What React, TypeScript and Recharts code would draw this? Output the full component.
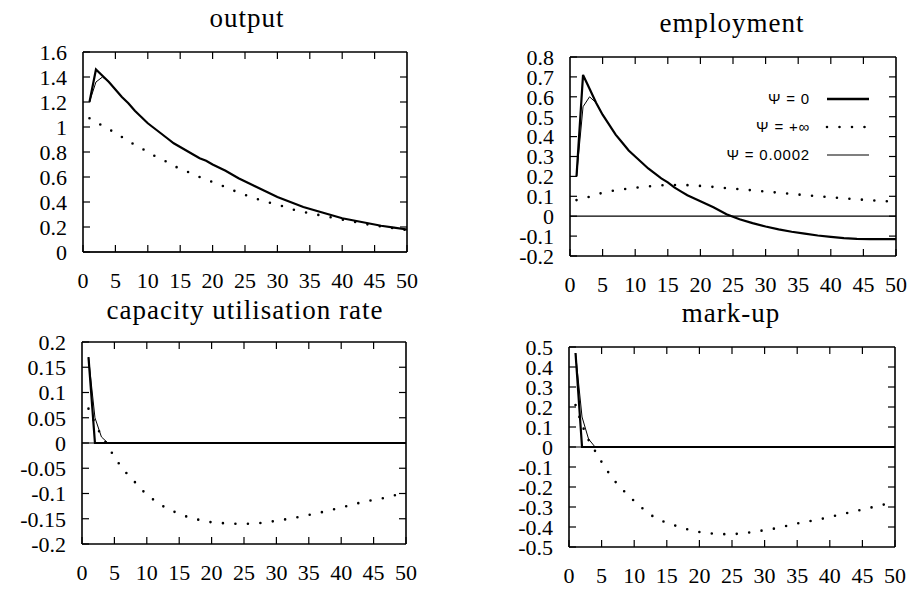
// Four impulse-response panels (gnuplot look): output, employment, capacity utilisation rate, mark-up
import { LineChart, Line, XAxis, YAxis, ReferenceLine } from 'recharts';

const SERIF = 'Liberation Serif';
const DOTS = '0 12.5';
const TICK_LEN = 7;

const legendLabels = ['\u03A8 = 0', '\u03A8 = +\u221E', '\u03A8 = 0.0002'];
const xTicks = [0, 5, 10, 15, 20, 25, 30, 35, 40, 45, 50];
const periods = [
  1, 2, 3, 4, 5, 6, 7, 8, 9, 10, 11, 12, 13, 14, 15, 16, 17, 18, 19, 20,
  22, 24, 26, 28, 30, 32, 34, 36, 38, 40, 42, 44, 46, 48, 50
];

// output
const outputTicks = [0, 0.2, 0.4, 0.6, 0.8, 1, 1.2, 1.4, 1.6];
const outputPsi0 = [
  1.2, 1.46, 1.41, 1.36, 1.3, 1.24, 1.19, 1.13, 1.08, 1.03, 0.99, 0.95, 0.91, 0.87, 0.84, 0.81, 0.78, 0.75, 0.73, 0.7,
  0.65, 0.59, 0.54, 0.49, 0.44, 0.4, 0.36, 0.33, 0.3, 0.27, 0.25, 0.23, 0.21, 0.195, 0.18
];
const outputPsiInf = [
  1.07, 1.04, 1.01, 0.98, 0.955, 0.92, 0.89, 0.855, 0.83, 0.8, 0.77, 0.745, 0.72, 0.69, 0.665, 0.645, 0.62, 0.6, 0.58, 0.56,
  0.52, 0.475, 0.44, 0.405, 0.38, 0.345, 0.32, 0.3, 0.28, 0.26, 0.24, 0.22, 0.205, 0.19, 0.175
];
const outputPsiSmall = [1.2, 1.36, 1.4, 1.36, 1.3];

// employment
const employmentTicks = [-0.2, -0.1, 0, 0.1, 0.2, 0.3, 0.4, 0.5, 0.6, 0.7, 0.8];
const employmentPsi0 = [
  0.2, 0.71, 0.64, 0.57, 0.51, 0.46, 0.41, 0.37, 0.33, 0.3, 0.27, 0.24, 0.215, 0.19, 0.17, 0.145, 0.125, 0.105, 0.09, 0.075,
  0.045, 0.01, -0.015, -0.035, -0.052, -0.066, -0.078, -0.088, -0.097, -0.104, -0.11, -0.114, -0.115, -0.115, -0.115
];
const employmentPsiInf = [
  0.081, 0.09, 0.098, 0.108, 0.118, 0.125, 0.13, 0.135, 0.139, 0.143, 0.147, 0.15, 0.153, 0.155, 0.156, 0.157, 0.157, 0.156, 0.154, 0.152,
  0.147, 0.141, 0.136, 0.13, 0.124, 0.118, 0.112, 0.106, 0.1, 0.095, 0.09, 0.085, 0.08, 0.076, 0.072
];
const employmentPsiSmall = [0.2, 0.55, 0.6, 0.57, 0.51];

// capacity utilisation rate
const capacityTicks = [-0.2, -0.15, -0.1, -0.05, 0, 0.05, 0.1, 0.15, 0.2];
const capacityPsi0 = [
  0.17, 0, 0, 0, 0, 0, 0, 0, 0, 0, 0, 0, 0, 0, 0, 0, 0, 0, 0, 0,
  0, 0, 0, 0, 0, 0, 0, 0, 0, 0, 0, 0, 0, 0, 0
];
const capacityPsiInf = [
  0.068, 0.039, 0.014, -0.006, -0.028, -0.046, -0.062, -0.075, -0.09, -0.102, -0.112, -0.121, -0.129, -0.135, -0.14, -0.145, -0.149, -0.152, -0.155, -0.157,
  -0.159, -0.16, -0.16, -0.158, -0.154, -0.15, -0.145, -0.14, -0.134, -0.128, -0.121, -0.115, -0.111, -0.104, -0.1
];
const capacityPsiSmall = [0.17, 0.05, 0.012, 0];

// mark-up
const markupTicks = [-0.5, -0.4, -0.3, -0.2, -0.1, 0, 0.1, 0.2, 0.3, 0.4, 0.5];
const markupPsi0 = [
  0.47, 0, 0, 0, 0, 0, 0, 0, 0, 0, 0, 0, 0, 0, 0, 0, 0, 0, 0, 0,
  0, 0, 0, 0, 0, 0, 0, 0, 0, 0, 0, 0, 0, 0, 0
];
const markupPsiInf = [
  0.21, 0.11, 0.035, -0.02, -0.075, -0.125, -0.17, -0.205, -0.24, -0.27, -0.3, -0.325, -0.35, -0.365, -0.38, -0.39, -0.4, -0.41, -0.42, -0.425,
  -0.433, -0.436, -0.434, -0.426, -0.416, -0.405, -0.39, -0.375, -0.365, -0.35, -0.335, -0.32, -0.305, -0.29, -0.275
];
const markupPsiSmall = [0.47, 0.15, 0.04, 0];

function buildRows(psi0: number[], psiInf: number[], psiSmall: number[]) {
  return periods.map((t, i) => ({
    t,
    psi0: psi0[i],
    psiInf: psiInf[i],
    psiSmall: i < psiSmall.length ? psiSmall[i] : null
  }));
}

const fmt = (v: number) => String(Math.round(v * 100) / 100);

function XTick({ x, y, payload }: any) {
  return (
    <text x={x} y={y} dy="0.71em" textAnchor="middle" fontFamily={SERIF} fontSize={22} fill="#000">
      {fmt(payload.value)}
    </text>
  );
}

function YTick({ x, y, payload }: any) {
  return (
    <text x={x} y={y} dy="0.355em" textAnchor="end" fontFamily={SERIF} fontSize={22} fill="#000">
      {fmt(payload.value)}
    </text>
  );
}

interface PanelProps {
  plotLeft: number;
  plotTop: number;
  plotW: number;
  plotH: number;
  yTicks: number[];
  rows: ReturnType<typeof buildRows>;
}

function Panel({ plotLeft, plotTop, plotW, plotH, yTicks, rows }: PanelProps) {
  const yMin = yTicks[0];
  const yMax = yTicks[yTicks.length - 1];
  // inward tick length for the top and right edges, in data units
  const dx = (TICK_LEN * 50) / plotW;
  const dy = (TICK_LEN * (yMax - yMin)) / plotH;
  const frame = { stroke: '#000', strokeWidth: 1.6 };
  const tickStyle = { stroke: '#000', strokeWidth: 1.2 };

  return (
    <div style={{ position: 'absolute', left: plotLeft - 80, top: plotTop - 10 }}>
      <LineChart width={plotW + 92} height={plotH + 55} data={rows} margin={{ top: 10, right: 12, left: 0, bottom: 0 }}>
        <XAxis
          dataKey="t"
          type="number"
          domain={[0, 50]}
          ticks={xTicks}
          interval={0}
          height={45}
          tickSize={-TICK_LEN}
          tickMargin={27}
          tick={(p: any) => <XTick {...p} />}
          axisLine={frame}
          tickLine={tickStyle}
        />
        <YAxis
          type="number"
          domain={[yMin, yMax]}
          ticks={yTicks}
          interval={0}
          width={80}
          tickSize={-TICK_LEN}
          tickMargin={23}
          tick={(p: any) => <YTick {...p} />}
          axisLine={frame}
          tickLine={tickStyle}
        />
        <ReferenceLine y={yMax} {...frame} />
        <ReferenceLine x={50} {...frame} />
        {xTicks.slice(1, -1).map((v) => (
          <ReferenceLine key={'xt' + v} segment={[{ x: v, y: yMax }, { x: v, y: yMax - dy }]} {...tickStyle} />
        ))}
        {yTicks.slice(1, -1).map((v) => (
          <ReferenceLine key={'yr' + v} segment={[{ x: 50, y: v }, { x: 50 - dx, y: v }]} {...tickStyle} />
        ))}
        <ReferenceLine y={0} stroke="#000" strokeWidth={1.2} />
        <Line
          type="linear"
          dataKey="psiInf"
          stroke="#000"
          strokeWidth={2.6}
          strokeDasharray={DOTS}
          strokeLinecap="round"
          dot={false}
          activeDot={false}
          isAnimationActive={false}
        />
        <Line type="linear" dataKey="psi0" stroke="#000" strokeWidth={2.2} dot={false} activeDot={false} isAnimationActive={false} />
        <Line type="linear" dataKey="psiSmall" stroke="#000" strokeWidth={1} dot={false} activeDot={false} isAnimationActive={false} />
      </LineChart>
    </div>
  );
}

function Title({ text, cx, baseline }: { text: string; cx: number; baseline: number }) {
  return (
    <div
      style={{
        position: 'absolute',
        left: cx - 200,
        width: 400,
        top: baseline - 22.6,
        textAlign: 'center',
        fontFamily: SERIF,
        fontSize: 27,
        lineHeight: '27px',
        letterSpacing: 1,
        color: '#000'
      }}
    >
      {text}
    </div>
  );
}

function LegendBox() {
  const rowsY = [99, 127, 155];
  const styles = [
    { strokeWidth: 2.4 },
    { strokeWidth: 2.6, strokeDasharray: DOTS, strokeLinecap: 'round' as const },
    { strokeWidth: 1.1 }
  ];
  return (
    <>
      {legendLabels.map((label, i) => (
        <div key={label}>
          <div
            style={{
              position: 'absolute',
              left: 640,
              width: 170,
              top: rowsY[i] - 10,
              height: 20,
              lineHeight: '20px',
              textAlign: 'right',
              fontFamily: 'Liberation Sans',
              fontSize: 15,
              letterSpacing: 0.8,
              color: '#000'
            }}
          >
            {label}
          </div>
          <svg style={{ position: 'absolute', left: 824, top: rowsY[i] - 4 }} width={50} height={8}>
            <line x1={3} x2={45} y1={4} y2={4} stroke="#000" {...styles[i]} />
          </svg>
        </div>
      ))}
    </>
  );
}

export default function App() {
  return (
    <div style={{ position: 'absolute', left: 0, top: 0, width: 912, height: 594, background: '#fff', overflow: 'hidden' }}>
      <Title text="output" cx={247} baseline={28} />
      <Title text="employment" cx={732} baseline={33} />
      <Title text="capacity utilisation rate" cx={245} baseline={320} />
      <Title text="mark-up" cx={731} baseline={323} />
      <Panel plotLeft={83} plotTop={52} plotW={324} plotH={200} yTicks={outputTicks} rows={buildRows(outputPsi0, outputPsiInf, outputPsiSmall)} />
      <Panel plotLeft={570} plotTop={57} plotW={326} plotH={199} yTicks={employmentTicks} rows={buildRows(employmentPsi0, employmentPsiInf, employmentPsiSmall)} />
      <Panel plotLeft={82} plotTop={342} plotW={324} plotH={202} yTicks={capacityTicks} rows={buildRows(capacityPsi0, capacityPsiInf, capacityPsiSmall)} />
      <Panel plotLeft={569} plotTop={347} plotW={326} plotH={200} yTicks={markupTicks} rows={buildRows(markupPsi0, markupPsiInf, markupPsiSmall)} />
      <LegendBox />
    </div>
  );
}
